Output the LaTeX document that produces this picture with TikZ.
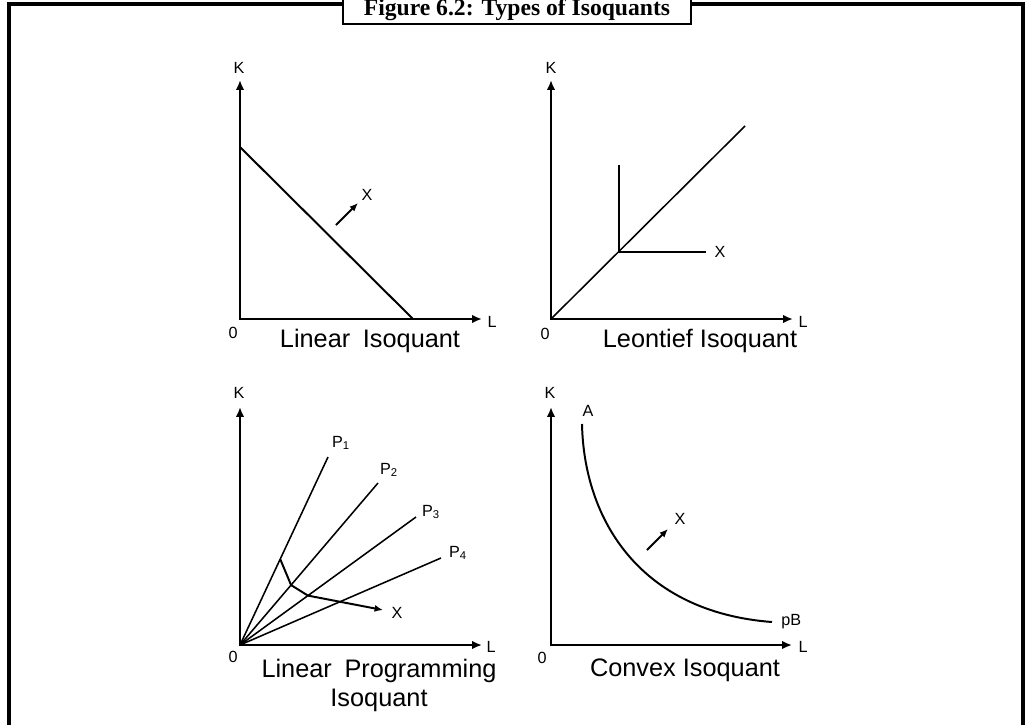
\documentclass[tikz,border=0pt]{standalone}
\usepackage{fontspec}
\setmainfont{Liberation Sans}
\newfontfamily\titlefont{Liberation Serif}
\usepackage{tikz}
\usetikzlibrary{arrows.meta,positioning,calc}

\begin{document}
\begin{tikzpicture}[
    x=0.025cm, y=-0.025cm,
    axis/.style={line width=1.4pt, {Latex[length=7pt,width=6pt]}-{Latex[length=7pt,width=6pt]}},
    isoq/.style={line width=1.4pt},
    ray/.style={line width=1.1pt},
    move/.style={line width=1.4pt, -{Latex[length=6pt,width=5pt]}},
    lbl/.style={inner sep=0pt, font=\fontsize{11.5}{13}\selectfont},
    graphcap/.style={inner sep=0pt, anchor=base, align=center, font=\fontsize{18}{20}\selectfont},
    titlebox/.style={draw, line width=1.5pt, fill=white, anchor=base, minimum width=8.7cm, text height=20pt, text depth=3.6pt, inner ysep=2.8pt, font=\titlefont\bfseries\fontsize{16.8}{18}\selectfont}
]

\useasboundingbox (0,0) rectangle (1026,724);

% Frame and title
\draw[line width=2.2pt] (9,760) -- (9,4) -- (1023,4) -- (1023,760);
\node[titlebox] (title) at (517,15) {Figure 6.2: Types of Isoquants};

% Linear isoquant
\coordinate (o1) at (240,319);
\coordinate (k1) at (240,80);
\coordinate (l1) at (482,319);
\node[lbl] (k1t) at (239,68) {K};
\node[lbl] (l1t) at (492,322) {L};
\node[lbl] (o1t) at (233,333) {0};
\coordinate (a1) at (240,147);
\coordinate (b1) at (413,319);
\coordinate (x1s) at (336,225);
\coordinate (x1e) at (358,203);
\node[lbl] (x1) at (367,195) {X};
\node[graphcap] (cap1) at (370,347) {Linear\enspace Isoquant};

\draw[axis] (k1) -- (o1) -- (l1);
\draw[isoq] (a1) -- (b1);
\draw[move] (x1s) -- (x1e);

% Leontief isoquant
\coordinate (o2) at (551,319);
\coordinate (k2) at (551,80);
\coordinate (l2) at (793,319);
\node[lbl] (k2t) at (551,68) {K};
\node[lbl] (l2t) at (803,322) {L};
\node[lbl] (o2t) at (545,334) {0};
\coordinate (r2) at (745,126);
\coordinate (c2) at (619,252);
\coordinate (t2) at (619,165);
\coordinate (h2) at (706,252);
\node[lbl] (x2) at (720,252) {X};
\node[graphcap] (cap2) at (700,347) {Leontief Isoquant};

\draw[axis] (k2) -- (o2) -- (l2);
\draw[ray] (o2) -- (r2);
\draw[line width=2.1pt] (t2) -- (c2) -- (h2);

% Linear programming isoquant
\coordinate (o3) at (240,645);
\coordinate (k3) at (240,407);
\coordinate (l3) at (482,645);
\node[lbl] (k3t) at (239,393) {K};
\node[lbl] (l3t) at (491,647) {L};
\node[lbl] (o3t) at (233,657) {0};
\coordinate (p1) at (328,457);
\coordinate (p2) at (378,483);
\coordinate (p3) at (416,517);
\coordinate (p4) at (441,558);
\node[lbl] (p1t) at (341,443) {P\textsubscript{1}};
\node[lbl] (p2t) at (389,470) {P\textsubscript{2}};
\node[lbl] (p3t) at (431,512) {P\textsubscript{3}};
\node[lbl] (p4t) at (458,553) {P\textsubscript{4}};
\coordinate (q1) at ($(o3)!0.457!(p1)$);
\coordinate (q2) at ($(o3)!0.37!(p2)$);
\coordinate (q3) at ($(o3)!0.386!(p3)$);
\coordinate (x3e) at (383,610);
\node[lbl] (x3) at (397,613) {X};
\node[graphcap] (cap3) at (379,706) {Linear\enspace Programming\\Isoquant};

\draw[axis] (k3) -- (o3) -- (l3);
\draw[ray] (o3) -- (p1);
\draw[ray] (o3) -- (p2);
\draw[ray] (o3) -- (p3);
\draw[ray] (o3) -- (p4);
\draw[move] (q1) -- (q2) -- (q3) -- (x3e);

% Convex isoquant
\coordinate (o4) at (551,645);
\coordinate (k4) at (551,407);
\coordinate (l4) at (792,645);
\node[lbl] (k4t) at (550,393) {K};
\node[lbl] (l4t) at (803,647) {L};
\node[lbl] (o4t) at (542,658) {0};
\coordinate (a4) at (582,424);
\coordinate (b4) at (772,622);
\node[lbl] (a4t) at (588,411) {A};
\node[lbl, anchor=west] (b4t) at (781,622) {pB};
\coordinate (x4s) at (647,550);
\coordinate (x4e) at (668,529);
\node[lbl] (x4) at (680,519) {X};
\node[graphcap] (cap4) at (685,676) {Convex Isoquant};

\draw[axis] (k4) -- (o4) -- (l4);
\draw[isoq] (a4) .. controls (584,520) and (640,612) .. (b4);
\draw[move] (x4s) -- (x4e);

\end{tikzpicture}
\end{document}
